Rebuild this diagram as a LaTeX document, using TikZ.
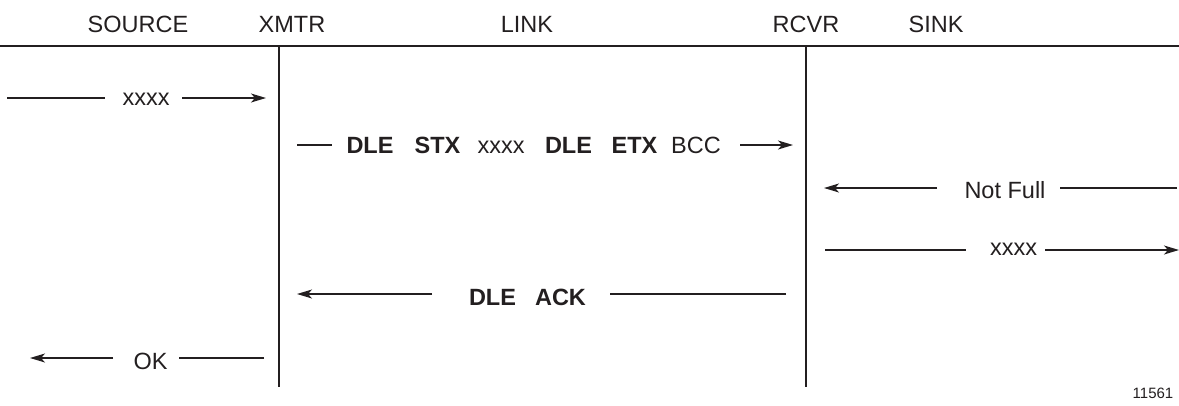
\documentclass[tikz,border=0pt]{standalone}
\usepackage{fontspec}
\setmainfont{Liberation Sans}
\usetikzlibrary{arrows.meta}
\definecolor{ink}{HTML}{231F20}
\tikzset{
  lbl/.style={anchor=base, inner sep=0pt, text=ink, font=\fontsize{23.5}{27}\selectfont},
  blbl/.style={lbl, font=\fontsize{23.5}{27}\selectfont\bfseries},
  small/.style={anchor=base, inner sep=0pt, text=ink, font=\fontsize{15}{17}\selectfont},
  wire/.style={draw=ink, line width=1.2pt},
  msg/.style={draw=ink, line width=1.2pt},
  arr/.style={msg, -{Stealth[length=15pt,width=9pt,inset=4pt]}},
}
\begin{document}
\begin{tikzpicture}[x=1pt,y=-1pt]
\useasboundingbox (0,0) rectangle (1179,405);
% headers
\node[lbl] (hsrc) at (138,32) {SOURCE};
\node[lbl] (hxmt) at (292,32) {XMTR};
\node[lbl] (hlnk) at (527,32) {LINK};
\node[lbl] (hrcv) at (806,32) {RCVR};
\node[lbl] (hsnk) at (936,32) {SINK};
% frame lines
\coordinate (tl) at (0,46);
\coordinate (tr) at (1179,46);
\coordinate (xt) at (279,46);
\coordinate (xb) at (279,387);
\coordinate (rt) at (806,46);
\coordinate (rb) at (806,387);
\draw[wire] (tl) -- (tr);
\draw[wire] (xt) -- (xb);
\draw[wire] (rt) -- (rb);
% row 1
\node[lbl] (t1) at (146,105) {xxxx};
\coordinate (a1) at (7,98);
\coordinate (b1) at (105,98);
\coordinate (c1) at (182,98);
\coordinate (d1) at (266,98);
\draw[msg] (a1) -- (b1);
\draw[arr] (c1) -- (d1);
% row 2
\node[blbl] (t2a) at (370,153) {DLE};
\node[blbl] (t2b) at (437.5,153) {STX};
\node[lbl]  (t2c) at (501,153) {xxxx};
\node[blbl] (t2d) at (568.5,153) {DLE};
\node[blbl] (t2e) at (634.5,153) {ETX};
\node[lbl]  (t2f) at (696,153) {BCC};
\coordinate (a2) at (297,145);
\coordinate (b2) at (332,145);
\coordinate (c2) at (740,145);
\coordinate (d2) at (793,145);
\draw[msg] (a2) -- (b2);
\draw[arr] (c2) -- (d2);
% row 3
\node[lbl] (t3) at (1005,198) {Not Full};
\coordinate (a3) at (1177,188);
\coordinate (b3) at (1060,188);
\coordinate (c3) at (937,188);
\coordinate (d3) at (824,188);
\draw[msg] (a3) -- (b3);
\draw[arr] (c3) -- (d3);
% row 4
\node[lbl] (t4) at (1013.5,255) {xxxx};
\coordinate (a4) at (825,250);
\coordinate (b4) at (966,250);
\coordinate (c4) at (1045,250);
\coordinate (d4) at (1179,250);
\draw[msg] (a4) -- (b4);
\draw[arr] (c4) -- (d4);
% row 5
\node[blbl] (t5a) at (492.5,305) {DLE};
\node[blbl] (t5b) at (560.5,305) {ACK};
\coordinate (a5) at (786,294);
\coordinate (b5) at (610,294);
\coordinate (c5) at (432,294);
\coordinate (d5) at (297,294);
\draw[msg] (a5) -- (b5);
\draw[arr] (c5) -- (d5);
% row 6
\node[lbl] (t6) at (150.5,369) {OK};
\coordinate (a6) at (264,358);
\coordinate (b6) at (179,358);
\coordinate (c6) at (113,358);
\coordinate (d6) at (30,358);
\draw[msg] (a6) -- (b6);
\draw[arr] (c6) -- (d6);
% figure number
\node[small] (fig) at (1153,398) {11561};
\end{tikzpicture}
\end{document}
